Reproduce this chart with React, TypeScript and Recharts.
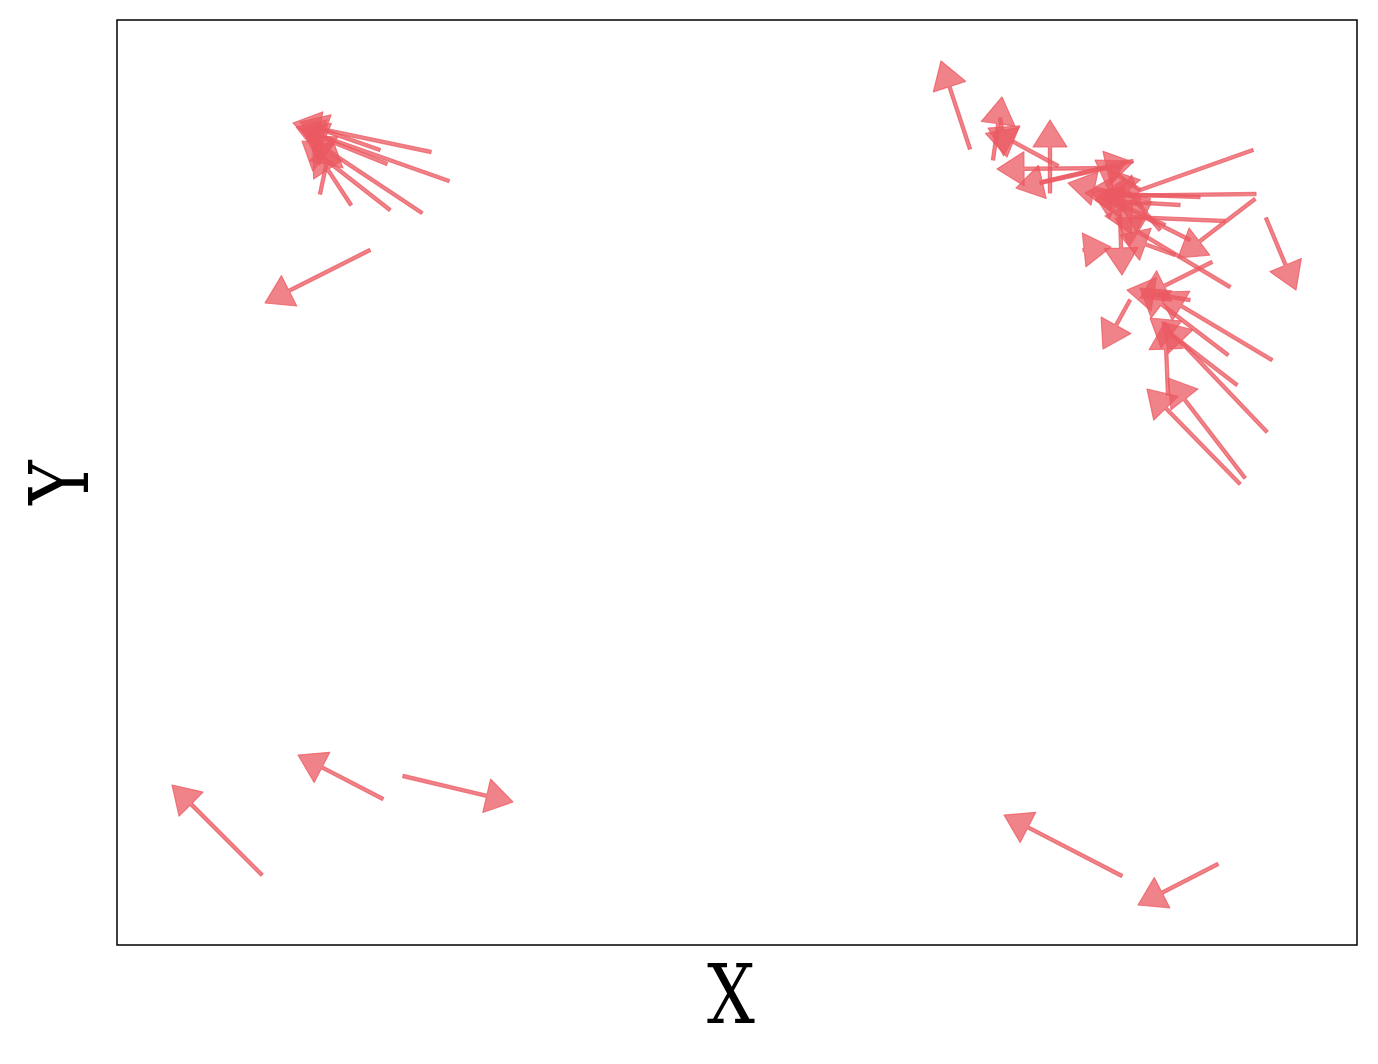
import { ScatterChart, Scatter, XAxis, YAxis, ReferenceArea, Label } from 'recharts';

// arrow tails (x0, y0) and tips (x1, y1), in data units
const X0 = [145, 266, 286, 1005, 1101, 253, 314, 332, 270, 305, 273, 234, 203, 263, 853, 876, 941, 933, 1003, 1016, 1136, 1139, 1083, 1108, 1138, 1113, 1095, 1123, 1128, 1150, 1155, 1120, 1111, 1051, 1013, 1149, 966, 1003, 923, 1033, 1023, 1073, 883, 1043, 1058, 1063, 1048, 1073];
const Y0 = [70, 146, 169, 69, 81, 695, 793, 764, 781, 732, 735, 740, 751, 795, 796, 785, 779, 752, 777, 784, 795, 751, 748, 724, 746, 658, 683, 461, 467, 513, 585, 560, 590, 550, 645, 727, 695, 730, 762, 745, 755, 645, 827, 715, 690, 740, 720, 705];
const X1 = [55, 181, 396, 887, 1021, 148, 176, 179, 183, 189, 185, 196, 215, 183, 824, 885, 871, 933, 880, 899, 995, 981, 968, 988, 1061, 998, 1023, 1030, 1051, 1045, 1041, 1033, 1023, 1048, 986, 1179, 994, 1005, 1016, 951, 978, 1010, 890, 993, 1003, 978, 975, 1003];
const Y1 = [160, 190, 143, 130, 40, 642, 822, 818, 816, 809, 804, 798, 807, 823, 884, 848, 817, 825, 776, 757, 745, 749, 752, 729, 687, 727, 647, 556, 567, 623, 653, 627, 657, 623, 596, 655, 698, 670, 783, 762, 785, 655, 788, 775, 710, 745, 753, 740];

const X_MAX = 1240;
const Y_MAX = 925;

const CHART_W = 1378;
const CHART_H = 1064;
const MARGIN = { top: 20, right: 21, bottom: 23, left: 0 };
const Y_AXIS_W = 117;
const X_AXIS_H = 96;
const PLOT_W = CHART_W - MARGIN.left - MARGIN.right - Y_AXIS_W;
const PLOT_H = CHART_H - MARGIN.top - MARGIN.bottom - X_AXIS_H;

const COLOR = '#eb5a62';
const HEAD_LEN = 27;
const HEAD_HALF = 17;
const SHAFT_HALF = 1.6;

const arrows = X0.map((x, i) => ({ x, y: Y0[i], u: X1[i] - x, v: Y1[i] - Y0[i] }));

function ArrowShape(props: any) {
  const { cx, cy, payload } = props;
  if (cx == null || cy == null) return null;
  const dx = payload.u * (PLOT_W / X_MAX);
  const dy = -payload.v * (PLOT_H / Y_MAX);
  const len = Math.hypot(dx, dy);
  if (len === 0) return null;
  const ux = dx / len;
  const uy = dy / len;
  const nx = -uy;
  const ny = ux;
  const hl = Math.min(HEAD_LEN, len);
  const tipX = cx + dx;
  const tipY = cy + dy;
  const bx = tipX - ux * hl;
  const by = tipY - uy * hl;
  const pts = [
    [cx + nx * SHAFT_HALF, cy + ny * SHAFT_HALF],
    [bx + nx * SHAFT_HALF, by + ny * SHAFT_HALF],
    [bx + nx * HEAD_HALF, by + ny * HEAD_HALF],
    [tipX, tipY],
    [bx - nx * HEAD_HALF, by - ny * HEAD_HALF],
    [bx - nx * SHAFT_HALF, by - ny * SHAFT_HALF],
    [cx - nx * SHAFT_HALF, cy - ny * SHAFT_HALF],
  ];
  return (
    <polygon
      points={pts.map((p) => `${p[0]},${p[1]}`).join(' ')}
      fill={COLOR}
      fillOpacity={0.75}
      stroke={COLOR}
      strokeOpacity={0.75}
      strokeWidth={1.2}
      strokeLinejoin="round"
    />
  );
}

const FONT_SIZE = 82;

// axis title, slightly narrowed to match the condensed serif of the original
function AxisTitle({ viewBox, text, rotate, dx = 0 }: any) {
  if (!viewBox) return null;
  const cx = viewBox.x + viewBox.width / 2 + dx;
  const cy = viewBox.y + viewBox.height / 2;
  const t = rotate ? `translate(${cx},${cy}) rotate(-90) scale(0.82,1)` : `translate(${cx},${cy}) scale(0.82,1)`;
  return (
    <text
      x={0}
      y={FONT_SIZE * 0.365}
      transform={t}
      textAnchor="middle"
      fontFamily='"DejaVu Serif", serif'
      fontSize={FONT_SIZE}
      fill="#000"
    >
      {text}
    </text>
  );
}

export default function App() {
  return (
    <div style={{ position: 'absolute', left: 0, top: 0, background: '#fff' }}>
      <ScatterChart width={CHART_W} height={CHART_H} margin={MARGIN}>
        <XAxis
          type="number"
          dataKey="x"
          domain={[0, X_MAX]}
          tick={false}
          tickLine={false}
          axisLine={false}
          height={X_AXIS_H}
        >
          <Label content={(p: any) => <AxisTitle viewBox={p.viewBox} text="X" dx={-6} />} />
        </XAxis>
        <YAxis
          type="number"
          dataKey="y"
          domain={[0, Y_MAX]}
          tick={false}
          tickLine={false}
          axisLine={false}
          width={Y_AXIS_W}
        >
          <Label content={(p: any) => <AxisTitle viewBox={p.viewBox} text="Y" rotate />} />
        </YAxis>
        <ReferenceArea x1={0} x2={X_MAX} y1={0} y2={Y_MAX} fill="none" stroke="#000" strokeWidth={1.5} fillOpacity={0} />
        <Scatter data={arrows} shape={ArrowShape} isAnimationActive={false} />
      </ScatterChart>
    </div>
  );
}
